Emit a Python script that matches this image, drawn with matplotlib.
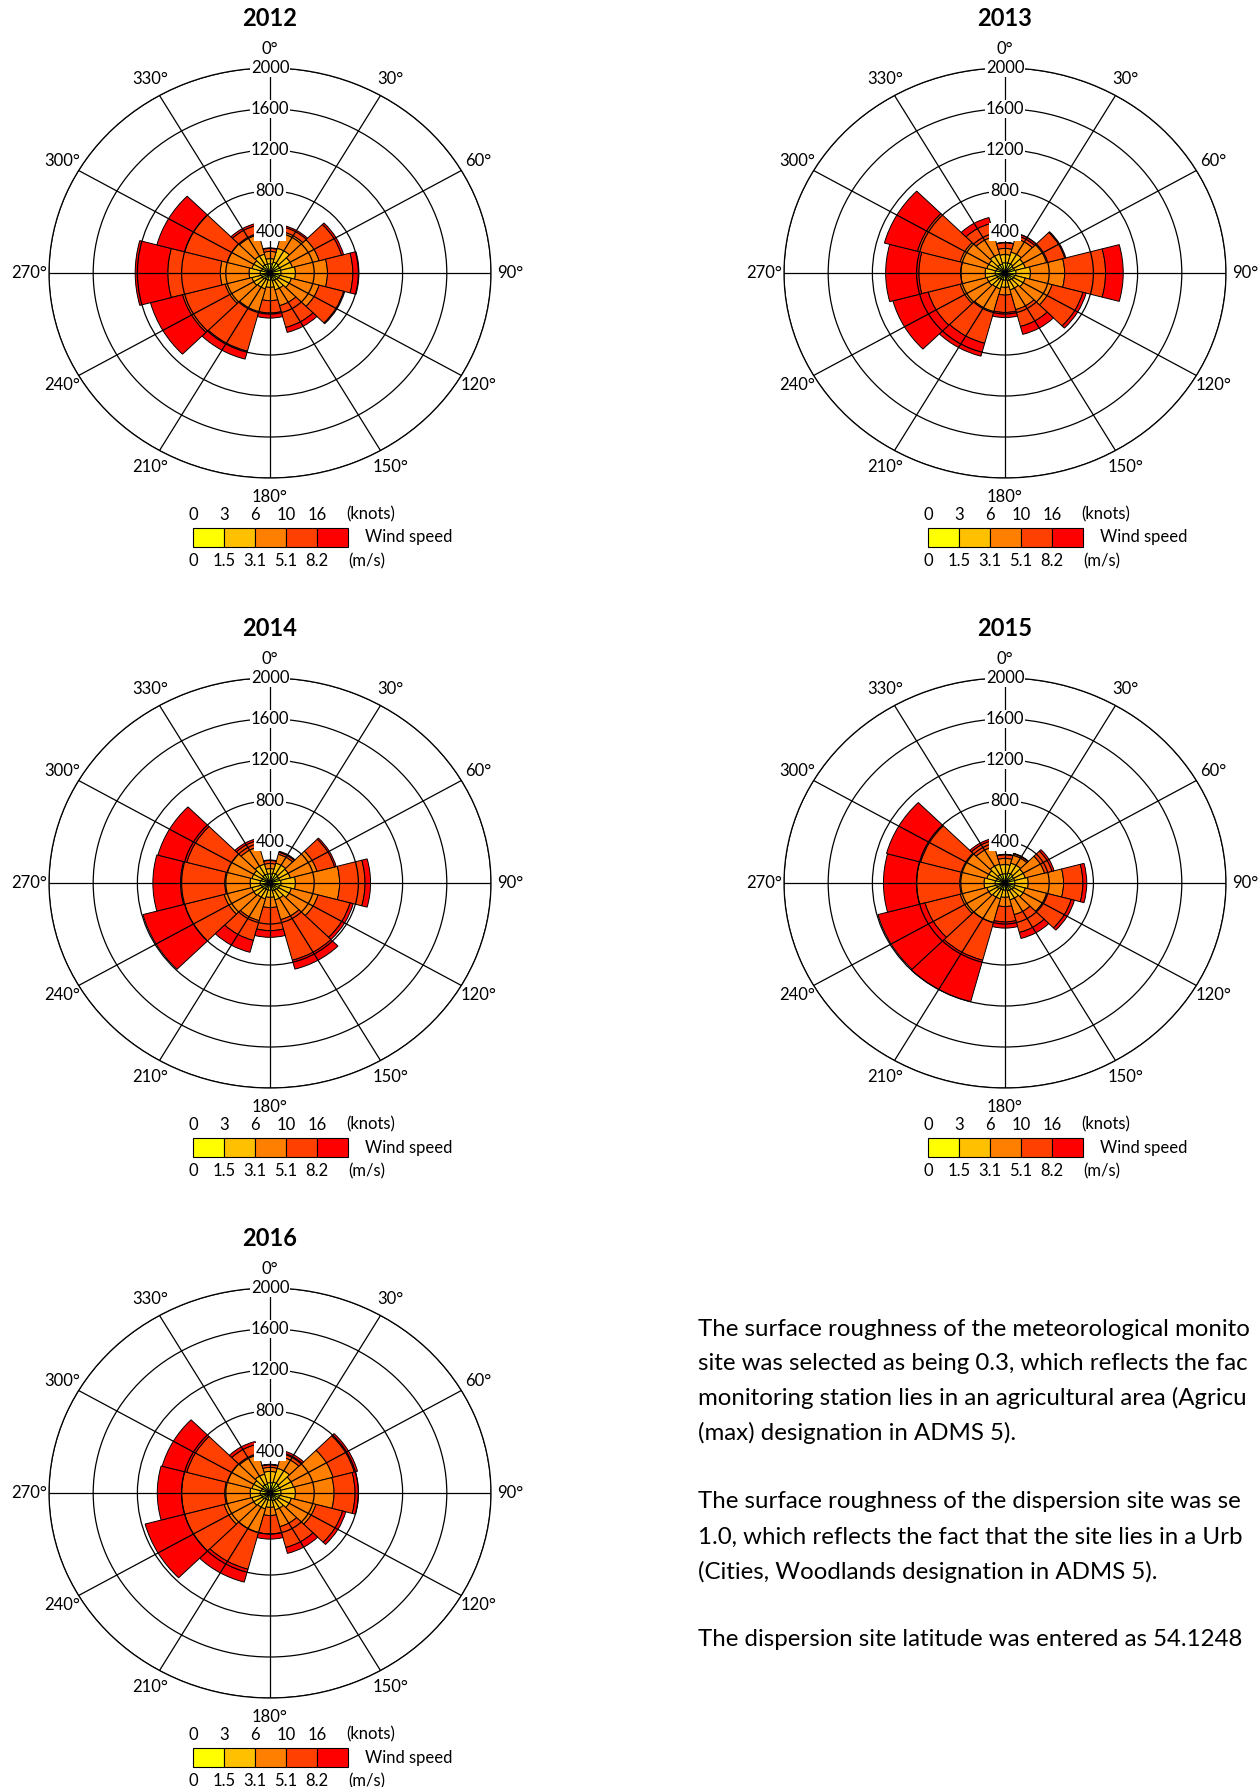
import numpy as np
import matplotlib
matplotlib.use("Agg")
import matplotlib.pyplot as plt

plt.rcParams['font.family'] = ['Lato', 'DejaVu Sans']

W, H = 1260, 1787

directions = [0, 30, 60, 90, 120, 150, 180, 210, 240, 270, 300, 330]
rings = [400, 800, 1200, 1600, 2000]
knots = ["0", "3", "6", "10", "16"]
ms = ["0", "1.5", "3.1", "5.1", "8.2"]
speed_colors = ["#FFFF00", "#FFC000", "#FF8000", "#FF4000", "#FF0000"]

# hours per sector (0..330 deg), one row per speed band (0-3, 3-6, 6-10, 10-16, >16 knots)
wr2012 = [[90, 110, 100, 100, 90, 80, 70, 70, 80, 90, 80, 90],
          [50, 140, 110, 130, 110, 90, 70, 90, 90, 100, 90, 100],
          [70, 170, 250, 290, 260, 160, 130, 230, 250, 260, 230, 200],
          [30, 45, 210, 230, 230, 220, 120, 400, 400, 475, 400, 90],
          [5, 15, 20, 55, 10, 50, 50, 80, 300, 295, 260, 20]]
wr2013 = [[100, 100, 90, 100, 90, 80, 70, 70, 80, 90, 80, 90],
          [80, 110, 100, 130, 100, 90, 70, 90, 90, 90, 90, 100],
          [60, 140, 200, 310, 250, 200, 75, 230, 250, 220, 250, 180],
          [55, 30, 170, 370, 290, 170, 170, 320, 300, 380, 400, 130],
          [3, 20, 10, 160, 30, 80, 50, 130, 330, 300, 310, 60]]
wr2014 = [[90, 100, 90, 100, 90, 80, 70, 70, 80, 90, 80, 90],
          [50, 100, 100, 130, 110, 90, 70, 90, 90, 90, 90, 100],
          [50, 90, 250, 400, 250, 200, 100, 220, 260, 230, 230, 180],
          [30, 20, 165, 230, 300, 410, 225, 200, 370, 400, 380, 60],
          [5, 10, 15, 50, 30, 90, 65, 120, 390, 250, 270, 20]]
wr2015 = [[90, 100, 90, 90, 90, 80, 70, 70, 80, 90, 80, 90],
          [90, 100, 100, 120, 100, 90, 70, 90, 90, 100, 90, 100],
          [60, 80, 180, 320, 200, 150, 90, 240, 250, 220, 240, 180],
          [35, 15, 70, 175, 230, 180, 150, 380, 330, 390, 380, 60],
          [5, 5, 20, 35, 30, 60, 60, 420, 440, 300, 320, 20]]
wr2016 = [[100, 110, 100, 100, 90, 80, 70, 70, 80, 90, 80, 90],
          [110, 140, 120, 130, 110, 90, 70, 90, 90, 90, 90, 100],
          [40, 120, 370, 350, 230, 170, 80, 240, 260, 230, 230, 200],
          [25, 40, 200, 190, 250, 210, 180, 370, 370, 390, 380, 100],
          [5, 20, 30, 30, 30, 60, 50, 130, 370, 220, 230, 30]]

years = [2012, 2013, 2014, 2015, 2016]
roses = [wr2012, wr2013, wr2014, wr2015, wr2016]
centres = [(270, 273), (1005, 273), (270, 883), (1005, 883), (270, 1493)]
RX, RY = 221, 205

# the page text runs off the right edge in the source, only the visible part is kept
body_lines = ["The surface roughness of the meteorological monito",
              "site was selected as being 0.3, which reflects the fac",
              "monitoring station lies in an agricultural area (Agricu",
              "(max) designation in ADMS 5).",
              "The surface roughness of the dispersion site was se",
              "1.0, which reflects the fact that the site lies in a Urb",
              "(Cities, Woodlands designation in ADMS 5).",
              "The dispersion site latitude was entered as 54.1248"]
body_y = [1329, 1364, 1398, 1433, 1502, 1537, 1572, 1640]

fig = plt.figure(figsize=(W / 100, H / 100), dpi=100)


def px_axes(x0, y0, x1, y1, **kw):
    return fig.add_axes([x0 / W, 1 - y1 / H, (x1 - x0) / W, (y1 - y0) / H], **kw)


def draw_rose(year, counts, cx, cy):
    ax = px_axes(cx - RX, cy - RY, cx + RX, cy + RY, projection='polar')
    ax.set_aspect('auto')
    ax.set_theta_zero_location('N')
    ax.set_theta_direction(-1)
    theta = np.deg2rad(directions)
    bottom = np.zeros(len(directions))
    for band, col in zip(counts, speed_colors):
        band = np.array(band, dtype=float)
        ax.bar(theta, band, width=np.deg2rad(30), bottom=bottom, color=col,
               edgecolor='black', linewidth=0.7, align='center')
        bottom += band
    ax.set_ylim(0, 2000)
    ax.set_yticks(rings)
    ax.set_yticklabels([])
    ax.set_thetagrids(directions, [f"{d}°" for d in directions])
    ax.tick_params(axis='x', pad=3.5, labelsize=12)
    ax.grid(True, color='black', linewidth=0.9)
    ax.set_axisbelow(False)
    ax.spines['polar'].set_linewidth(0.9)
    for r in rings:
        ax.text(0, r, str(r), ha='center', va='center', fontsize=12, zorder=6,
                bbox=dict(facecolor='white', edgecolor='none', pad=0.8))
    fig.text(cx / W, 1 - (cy - 254) / H, str(year), ha='center', va='center',
             fontsize=17, fontweight='bold')

    # speed legend under the rose
    lx, ly = cx - 77, cy + 255
    lax = px_axes(lx, ly, lx + 155, ly + 19)
    bars = lax.bar(range(5), [1] * 5, width=1, align='edge', color=speed_colors,
                   edgecolor='black', linewidth=0.8)
    for b in bars:
        b.set_clip_on(False)
    lax.set_xlim(0, 5)
    lax.set_ylim(0, 1)
    lax.axis('off')
    for i, (k, m) in enumerate(zip(knots, ms)):
        lax.text(i, 1.7, k, ha='center', va='center', fontsize=12)
        lax.text(i, -0.75, m, ha='center', va='center', fontsize=12)
    lax.text(4.95, 1.7, "(knots)", ha='left', va='center', fontsize=12)
    lax.text(5.0, -0.75, "(m/s)", ha='left', va='center', fontsize=12)
    lax.text(5.55, 0.5, "Wind speed", ha='left', va='center', fontsize=12)


for year, counts, (cx, cy) in zip(years, roses, centres):
    draw_rose(year, counts, cx, cy)

for line, y in zip(body_lines, body_y):
    fig.text(698 / W, 1 - y / H, line, ha='left', va='center', fontsize=17.3)

fig.savefig("out.png", dpi=100)
